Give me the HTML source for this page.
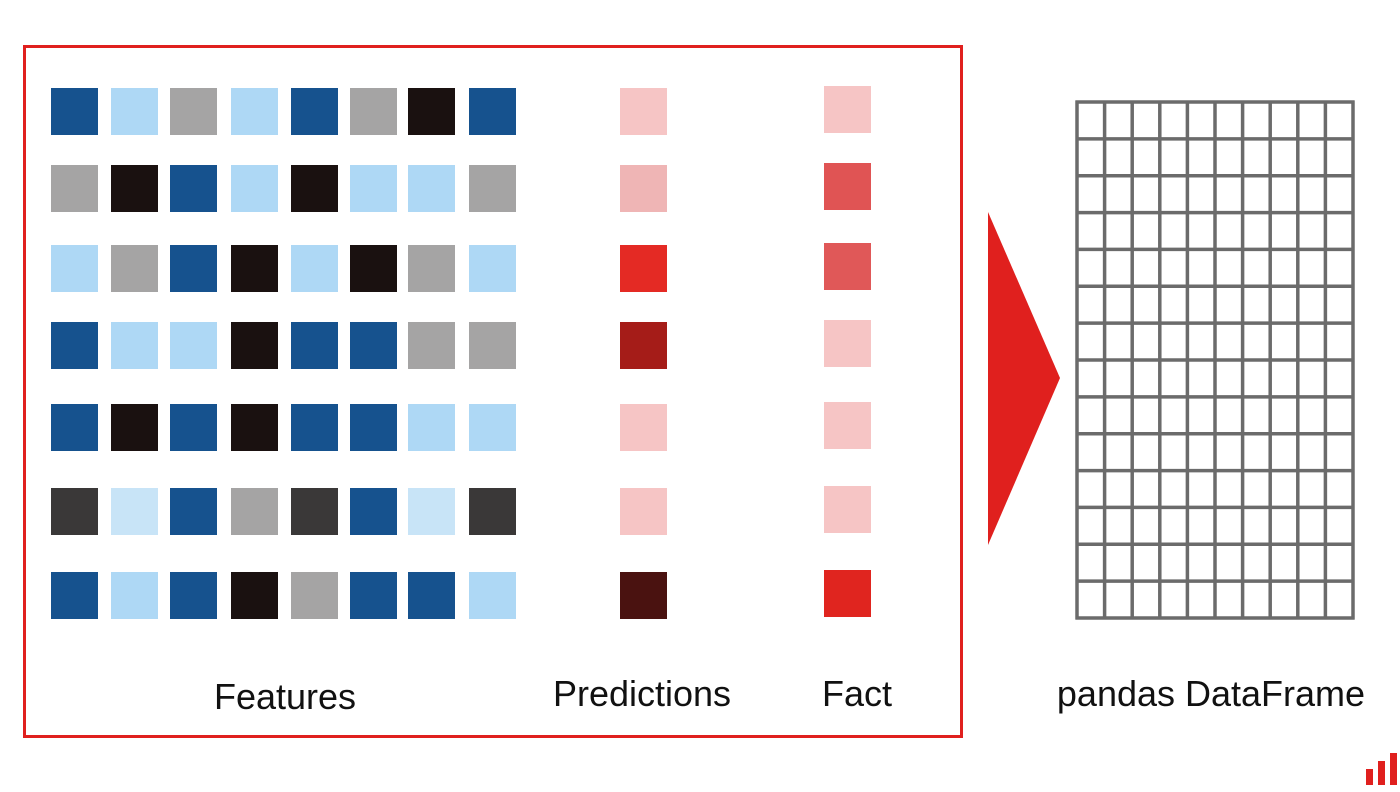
<!DOCTYPE html>
<html><head><meta charset="utf-8"><style>
body{margin:0;width:1400px;height:787px;background:#fff;overflow:hidden;font-family:"Liberation Sans",sans-serif}
</style></head><body>
<svg width="1400" height="787">
<rect x="24.5" y="46.5" width="937" height="690" fill="none" stroke="#e0201e" stroke-width="3"/>
<g id="cells"></g>
<polygon points="988,212 1060,378 988,545" fill="#e0201e"/>
<g id="grid"></g>
<text x="285" y="709" font-size="36" text-anchor="middle" fill="#111">Features</text>
<text x="642" y="706" font-size="36" text-anchor="middle" fill="#111">Predictions</text>
<text x="857" y="706" font-size="36" text-anchor="middle" fill="#111">Fact</text>
<text x="1211" y="706" font-size="36" text-anchor="middle" fill="#111">pandas DataFrame</text>
<g fill="#e0201e">
<rect x="1366" y="769" width="7" height="16"/><rect x="1378" y="761" width="7" height="24"/><rect x="1390" y="753" width="7" height="32"/>
</g>
</svg>
<script>
const features=[
["DB","LB","G","LB","DB","G","K","DB"],
["G","K","DB","LB","K","LB","LB","G"],
["LB","G","DB","K","LB","K","G","LB"],
["DB","LB","LB","K","DB","DB","G","G"],
["DB","K","DB","K","DB","DB","LB","LB"],
["K2","LB2","DB","G","K2","DB","LB2","K2"],
["DB","LB","DB","K","G","DB","DB","LB"]];
const predictions=["#f6c5c5","#efb5b5","#e42a24","#a51c18","#f6c5c5","#f6c5c5","#4a1210"];
const facts=["#f6c5c5","#e05454","#e05858","#f6c5c5","#f6c5c5","#f6c5c5","#e0251f"];
const colors={DB:"#16528e",LB:"#aed8f5",G:"#a5a4a4",K:"#1a1110",K2:"#3a3838",LB2:"#c8e4f7"};
const rowY=[88,165,245,322,404,488,572];
const colX=[51,111,170,231,291,350,408,469];
const ns="http://www.w3.org/2000/svg";
const g=document.getElementById('cells');
function sq(x,y,c){const r=document.createElementNS(ns,'rect');r.setAttribute('x',x);r.setAttribute('y',y);r.setAttribute('width',47);r.setAttribute('height',47);r.setAttribute('fill',c);g.appendChild(r);return r;}
features.forEach((row,i)=>row.forEach((k,j)=>{const r=sq(colX[j],rowY[i],colors[k]);

}));
predictions.forEach((c,i)=>{const r=sq(620,rowY[i],c);

});
facts.forEach((c,i)=>{const r=sq(824,rowY[i]-2,c);

});
const gr=document.getElementById('grid');
const L=1077,R=1353,T=102,B=618,nc=10,nr=14;
for(let i=0;i<=nc;i++){const x=L+(R-L)*i/nc;const l=document.createElementNS(ns,'line');l.setAttribute('x1',x);l.setAttribute('x2',x);l.setAttribute('y1',T-1.5);l.setAttribute('y2',B+1.5);l.setAttribute('stroke','#6b6b6b');l.setAttribute('stroke-width',3.5);gr.appendChild(l);}
for(let i=0;i<=nr;i++){const y=T+(B-T)*i/nr;const l=document.createElementNS(ns,'line');l.setAttribute('y1',y);l.setAttribute('y2',y);l.setAttribute('x1',L-1.5);l.setAttribute('x2',R+1.5);l.setAttribute('stroke','#6b6b6b');l.setAttribute('stroke-width',3.5);gr.appendChild(l);}
</script>
</body></html>
